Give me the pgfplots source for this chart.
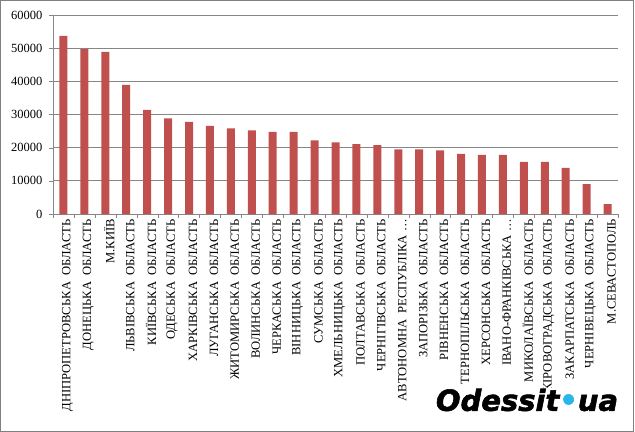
\documentclass[border=0pt]{standalone}
\usepackage{fontspec}
\setmainfont{Liberation Serif}
\newfontfamily\logofont{DejaVu Sans}[BoldItalicFeatures={FakeBold=2}]
\usepackage{pgfplots}
\pgfplotsset{compat=1.18}
\definecolor{barred}{HTML}{C0504D}
\definecolor{gridgray}{HTML}{868686}
\definecolor{logoblue}{HTML}{29B6E8}
\begin{document}
\begin{tikzpicture}
\begin{axis}[
    name=ax,
    scale only axis,
    width=565bp, height=199bp,
    xmin=-0.5, xmax=26.5,
    ymin=0, ymax=60000,
    ytick={0,10000,...,60000},
    xtick={0,...,26},
    xticklabels={
        ДНІПРОПЕТРОВСЬКА\ \ ОБЛАСТЬ,
        ДОНЕЦЬКА\ \ ОБЛАСТЬ,
        М.КИЇВ,
        ЛЬВІВСЬКА\ \ ОБЛАСТЬ,
        КИЇВСЬКА\ \ ОБЛАСТЬ,
        ОДЕСЬКА\ \ ОБЛАСТЬ,
        ХАРКІВСЬКА\ \ ОБЛАСТЬ,
        ЛУГАНСЬКА\ \ ОБЛАСТЬ,
        ЖИТОМИРСЬКА\ \ ОБЛАСТЬ,
        ВОЛИНСЬКА\ \ ОБЛАСТЬ,
        ЧЕРКАСЬКА\ \ ОБЛАСТЬ,
        ВІННИЦЬКА\ \ ОБЛАСТЬ,
        СУМСЬКА\ \ ОБЛАСТЬ,
        ХМЕЛЬНИЦЬКА\ \ ОБЛАСТЬ,
        ПОЛТАВСЬКА\ \ ОБЛАСТЬ,
        ЧЕРНІГІВСЬКА\ \ ОБЛАСТЬ,
        АВТОНОМНА\ \ РЕСПУБЛІКА …,
        ЗАПОРІЗЬКА\ \ ОБЛАСТЬ,
        РІВНЕНСЬКА\ \ ОБЛАСТЬ,
        ТЕРНОПІЛЬСЬКА\ \ ОБЛАСТЬ,
        ХЕРСОНСЬКА\ \ ОБЛАСТЬ,
        ІВАНО-ФРАНКІВСЬКА …,
        МИКОЛАЇВСЬКА\ \ ОБЛАСТЬ,
        КІРОВОГРАДСЬКА\ \ ОБЛАСТЬ,
        ЗАКАРПАТСЬКА\ \ ОБЛАСТЬ,
        ЧЕРНІВЕЦЬКА\ \ ОБЛАСТЬ,
        М.СЕВАСТОПОЛЬ},
    minor xtick={-0.5,0.5,...,26.5},
    x tick label style={rotate=90, anchor=east, font=\fontsize{12.6bp}{14bp}\selectfont, inner sep=1bp, yshift=-4bp},
    y tick label style={font=\fontsize{12.5bp}{14bp}\selectfont, /pgf/number format/assume math mode=true, /pgf/number format/1000 sep={}, xshift=-3bp},
    scaled y ticks=false,
    axis lines*=left,
    axis line style={gridgray, -},
    tick align=outside,
    tick style={gridgray},
    major tick length=4bp,
    minor tick length=4bp,
    major x tick style={draw=none},
    ymajorgrids,
    grid style={gridgray, line width=0.8bp},
    ybar,
    bar width=8bp,
    clip=false,
]
\addplot[fill=barred, draw=none] coordinates {
    (0,53700) (1,49700) (2,48900) (3,38900) (4,31400) (5,28800)
    (6,27800) (7,26600) (8,25800) (9,25200) (10,24800) (11,24800)
    (12,22200) (13,21600) (14,21100) (15,20800) (16,19500) (17,19500)
    (18,19200) (19,18100) (20,17800) (21,17800) (22,15700) (23,15700)
    (24,13900) (25,9000) (26,3000)
};
\coordinate (o) at (rel axis cs:0,0);
\end{axis}
\useasboundingbox ([shift={(-53bp,-218bp)}]o) rectangle ([shift={(582bp,214bp)}]o);
\draw[gray, line width=1bp] ([shift={(-52.5bp,-217.5bp)}]o) rectangle ([shift={(580bp,213.5bp)}]o);
\node[fill=white, inner sep=1bp, anchor=center] at ([shift={(474bp,-186bp)}]o)
    {\logofont\bfseries\itshape\fontsize{29bp}{30bp}\selectfont Odessit\textcolor{logoblue}{\raisebox{0.02em}{\textbullet}}ua};
\end{tikzpicture}
\end{document}
